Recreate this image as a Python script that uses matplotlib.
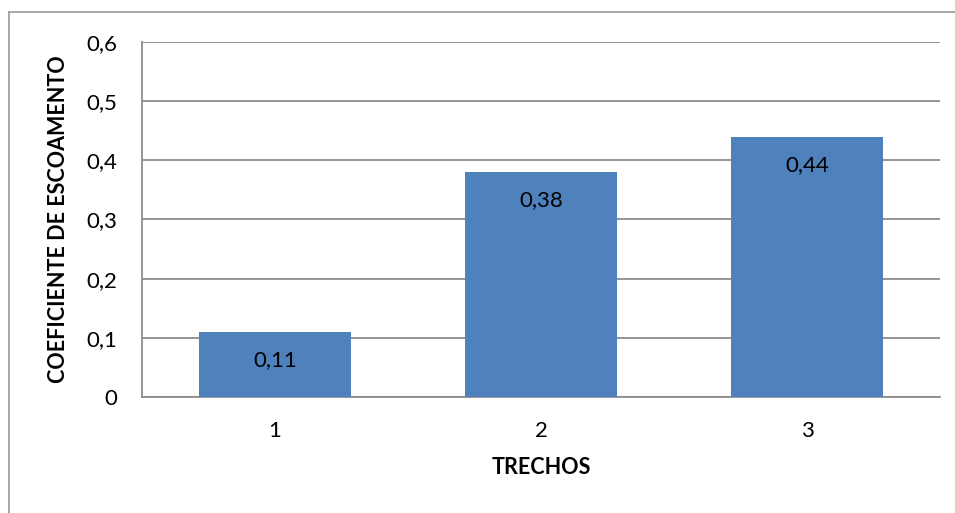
import matplotlib
matplotlib.use("Agg")
import matplotlib.pyplot as plt
from matplotlib.lines import Line2D

# Runoff coefficient per river stretch
trechos = ["1", "2", "3"]
coeficientes = [0.11, 0.38, 0.44]
rotulos = ["0,11", "0,38", "0,44"]
y_ticks = [0, 0.1, 0.2, 0.3, 0.4, 0.5, 0.6]
y_tick_labels = ["0", "0,1", "0,2", "0,3", "0,4", "0,5", "0,6"]

plt.rcParams["font.family"] = ["Lato", "DejaVu Sans"]

W, H = 955, 513
fig = plt.figure(figsize=(W / 100, H / 100), dpi=100)
ax = fig.add_axes([142 / W, 1 - 397 / H, (940 - 142) / W, (397 - 42) / H])

bar_color = "#4F81BD"
grid_color = "#8C8C8C"

x = range(len(trechos))
bars = ax.bar(x, coeficientes, width=0.57, color=bar_color, zorder=3)

for rect, txt in zip(bars, rotulos):
    ax.annotate(txt, (rect.get_x() + rect.get_width() / 2, rect.get_height()),
                xytext=(0, -28), textcoords="offset pixels",
                ha="center", va="center", fontsize=16, color="black", zorder=4)

ax.set_xlim(-0.5, len(trechos) - 0.5)
ax.set_ylim(0, 0.6)
ax.set_yticks(y_ticks)
ax.set_yticklabels(y_tick_labels, fontsize=16)
ax.set_xticks(list(x))
ax.set_xticklabels(trechos, fontsize=16)

ax.yaxis.grid(True, color=grid_color, linewidth=1.3, zorder=0)
ax.set_axisbelow(True)
for side in ("top", "right"):
    ax.spines[side].set_visible(False)
for side in ("left", "bottom"):
    ax.spines[side].set_color(grid_color)
    ax.spines[side].set_linewidth(1.3)
ax.tick_params(axis="both", length=0)
ax.tick_params(axis="y", pad=18)
ax.tick_params(axis="x", pad=17)

ax.set_xlabel("TRECHOS", fontsize=15.5, fontweight="bold", labelpad=12)
ax.set_ylabel("COEFICIENTE DE ESCOAMENTO", fontsize=15.5, fontweight="bold", labelpad=12)

# Chart area frame (left and top edges)
frame_kw = dict(color="#A0A0A0", linewidth=1.3, transform=fig.transFigure)
fig.add_artist(Line2D([9 / W, 1], [1 - 12 / H, 1 - 12 / H], **frame_kw))
fig.add_artist(Line2D([9 / W, 9 / W], [1 - 12 / H, 0], **frame_kw))

fig.savefig("out.png", dpi=100)
